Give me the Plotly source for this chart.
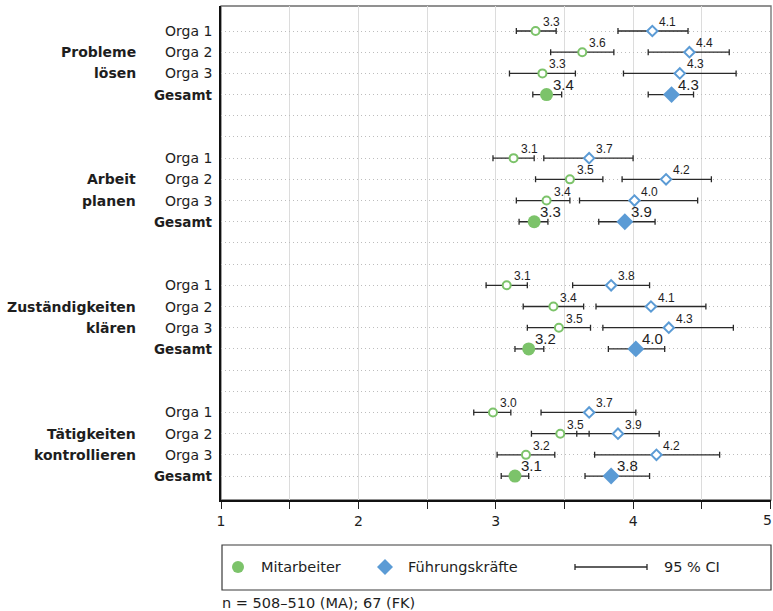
import plotly.graph_objects as go

# ---------------- data ----------------
group_lines = [["Probleme", "lösen"], ["Arbeit", "planen"],
               ["Zuständigkeiten", "klären"], ["Tätigkeiten", "kontrollieren"]]
row_labels = ["Orga 1", "Orga 2", "Orga 3", "Gesamt"]

ma_mean = [[3.29, 3.63, 3.34, 3.37], [3.13, 3.54, 3.37, 3.28],
           [3.08, 3.42, 3.46, 3.24], [2.98, 3.47, 3.22, 3.14]]
ma_lo = [[3.15, 3.40, 3.10, 3.27], [2.98, 3.29, 3.15, 3.17],
         [2.93, 3.20, 3.23, 3.14], [2.84, 3.26, 3.01, 3.04]]
ma_hi = [[3.44, 3.86, 3.58, 3.48], [3.28, 3.78, 3.54, 3.38],
         [3.23, 3.64, 3.69, 3.35], [3.11, 3.68, 3.43, 3.24]]
ma_text = [["3.3", "3.6", "3.3", "3.4"], ["3.1", "3.5", "3.4", "3.3"],
           ["3.1", "3.4", "3.5", "3.2"], ["3.0", "3.5", "3.2", "3.1"]]

fk_mean = [[4.14, 4.41, 4.34, 4.28], [3.68, 4.24, 4.01, 3.94],
           [3.84, 4.13, 4.26, 4.02], [3.68, 3.89, 4.17, 3.84]]
fk_lo = [[3.89, 4.11, 3.93, 4.11], [3.35, 3.92, 3.61, 3.75],
         [3.56, 3.73, 3.78, 3.82], [3.33, 3.59, 3.72, 3.65]]
fk_hi = [[4.40, 4.70, 4.75, 4.44], [4.00, 4.57, 4.47, 4.16],
         [4.12, 4.53, 4.73, 4.23], [4.02, 4.19, 4.63, 4.12]]
fk_text = [["4.1", "4.4", "4.3", "4.3"], ["3.7", "4.2", "4.0", "3.9"],
           ["3.8", "4.1", "4.3", "4.0"], ["3.7", "3.9", "4.2", "3.8"]]

x_ticks = [1, 1.5, 2, 2.5, 3, 3.5, 4, 4.5, 5]
x_ticktext = ["1", "", "2", "", "3", "", "4", "", ""]
x_last_label = "5"

legend_labels = ["Mitarbeiter", "Führungskräfte", "95 % CI"]
footnote = "n = 508–510 (MA); 67 (FK)"

# ---------------- styling ----------------
GREEN = "#7cc36a"
BLUE = "#5b9bd5"
TXT = "#1e1e1e"
LBL_FONT = "DejaVu Sans"
NUM_FONT = "Liberation Sans"
BLOCK_STEP = 6  # 4 rows + 2 spacer rows

def row_pos(g, r):
    return g * BLOCK_STEP + r

fig = go.Figure()

def add_series(means, los, his, rows_sel, color, symbol, size, filled, name):
    xs, ys, em, ep = [], [], [], []
    for g in range(4):
        for r in rows_sel:
            m = means[g][r]
            xs.append(m)
            ys.append(row_pos(g, r))
            em.append(m - los[g][r])
            ep.append(his[g][r] - m)
    fig.add_trace(go.Scatter(
        x=xs, y=ys, mode="markers", name=name, showlegend=False,
        marker=dict(symbol=symbol, size=size,
                    color=color if filled else "white",
                    line=dict(color=color, width=0 if filled else 2)),
        error_x=dict(type="data", symmetric=False, array=ep, arrayminus=em,
                     color="#2a2a2a", thickness=1.3, width=3),
        cliponaxis=False, hoverinfo="x+y"))

add_series(ma_mean, ma_lo, ma_hi, [0, 1, 2], GREEN, "circle", 8, False, "MA orga")
add_series(fk_mean, fk_lo, fk_hi, [0, 1, 2], BLUE, "diamond", 8, False, "FK orga")
add_series(ma_mean, ma_lo, ma_hi, [3], GREEN, "circle", 13, True, "MA gesamt")
add_series(fk_mean, fk_lo, fk_hi, [3], BLUE, "diamond", 13, True, "FK gesamt")

annotations = []
# value labels
for g in range(4):
    for r in range(4):
        big = (r == 3)
        for means, texts in ((ma_mean, ma_text), (fk_mean, fk_text)):
            annotations.append(dict(
                x=means[g][r], y=row_pos(g, r), xref="x", yref="y",
                text=texts[g][r], showarrow=False, xanchor="left", yanchor="bottom",
                xshift=4 if big else 5, yshift=0,
                font=dict(family=NUM_FONT, size=15 if big else 12, color=TXT)))

# row labels
ORGA_X = -0.012
GROUP_X = -0.151
for g in range(4):
    for r in range(4):
        txt = row_labels[r]
        if r == 3:
            txt = "<b>" + txt + "</b>"
        annotations.append(dict(
            x=ORGA_X, y=row_pos(g, r), xref="paper", yref="y", text=txt,
            showarrow=False, xanchor="right", yanchor="middle",
            font=dict(family=LBL_FONT, size=14 if r < 3 else 13.5, color=TXT)))
    for i, line in enumerate(group_lines[g]):
        annotations.append(dict(
            x=GROUP_X, y=row_pos(g, 1 + i), xref="paper", yref="y",
            text="<b>" + line + "</b>", showarrow=False, xanchor="right",
            yanchor="middle", font=dict(family=LBL_FONT, size=14, color=TXT)))

# legend (manual) in paper coords: plot spans px 221..771 (x), 6..500 (y)
def px_x(p):
    return (p - 221) / 550.0

def px_y(p):
    return (500 - p) / 494.0

# last x tick label, nudged so it stays inside the page
annotations.append(dict(x=x_ticks[-1], y=px_y(519.5), xref="x", yref="paper",
                        text=x_last_label, showarrow=False, xanchor="center",
                        yanchor="middle", xshift=-3,
                        font=dict(family=LBL_FONT, size=14, color=TXT)))

LEG_Y = px_y(567)
shapes = [
    dict(type="rect", xref="paper", yref="paper", x0=0, x1=1, y0=0, y1=1,
         line=dict(color="#6e6e6e", width=1.3), layer="below"),
    dict(type="rect", xref="paper", yref="paper", x0=px_x(222), x1=px_x(771),
         y0=px_y(545), y1=px_y(590), line=dict(color="#3a3a3a", width=1.2),
         fillcolor="white"),
    dict(type="circle", xref="paper", yref="paper", xsizemode="pixel", ysizemode="pixel",
         xanchor=px_x(238), yanchor=LEG_Y, x0=-6, x1=6, y0=-6, y1=6,
         fillcolor=GREEN, line=dict(width=0)),
    dict(type="path", xref="paper", yref="paper", xsizemode="pixel", ysizemode="pixel",
         xanchor=px_x(385), yanchor=LEG_Y, path="M -8,0 L 0,8 L 8,0 L 0,-8 Z",
         fillcolor=BLUE, line=dict(width=0)),
    dict(type="line", xref="paper", yref="paper", x0=px_x(575), x1=px_x(647),
         y0=LEG_Y, y1=LEG_Y, line=dict(color="#2a2a2a", width=1.3)),
    dict(type="line", xref="paper", yref="paper", x0=px_x(575), x1=px_x(575),
         y0=px_y(564), y1=px_y(570), line=dict(color="#2a2a2a", width=1.3)),
    dict(type="line", xref="paper", yref="paper", x0=px_x(647), x1=px_x(647),
         y0=px_y(564), y1=px_y(570), line=dict(color="#2a2a2a", width=1.3)),
]
for xp, t in zip((259, 406, 662), legend_labels):
    annotations.append(dict(x=px_x(xp), y=LEG_Y, xref="paper", yref="paper", text=t,
                            showarrow=False, xanchor="left", yanchor="middle",
                            font=dict(family=LBL_FONT, size=14.5, color=TXT)))
annotations.append(dict(x=px_x(220), y=px_y(603), xref="paper", yref="paper",
                        text=footnote, showarrow=False, xanchor="left", yanchor="middle",
                        font=dict(family=LBL_FONT, size=14.5, color=TXT)))

n_rows = 3 * BLOCK_STEP + 4
fig.update_layout(
    width=773, height=611,
    margin=dict(l=221, r=2, t=6, b=111, autoexpand=False),
    paper_bgcolor="white", plot_bgcolor="white",
    showlegend=False,
    xaxis=dict(range=[1, 5.004], tickvals=x_ticks, ticktext=x_ticktext,
               automargin=False,
               showgrid=True, gridcolor="#dcdcdc", gridwidth=1.2,
               ticks="outside", ticklen=7, tickwidth=1.3, tickcolor="#222",
               ticklabeloverflow="allow",
               showline=True, linecolor="#111", linewidth=1.6, zeroline=False,
               tickfont=dict(family=LBL_FONT, size=14, color=TXT)),
    yaxis=dict(range=[n_rows - 1 + 1.13, -1.18], tickvals=list(range(n_rows)),
               automargin=False,
               showticklabels=False, ticks="", showgrid=True, gridcolor="#bdbdbd",
               gridwidth=1, griddash="1px,3px", zeroline=False,
               showline=True, linecolor="#111", linewidth=1.6),
    annotations=annotations, shapes=shapes,
)

fig.write_html("out.html", config={"displayModeBar": False},
               post_script="document.body.style.margin='0';document.body.style.padding='0';")
